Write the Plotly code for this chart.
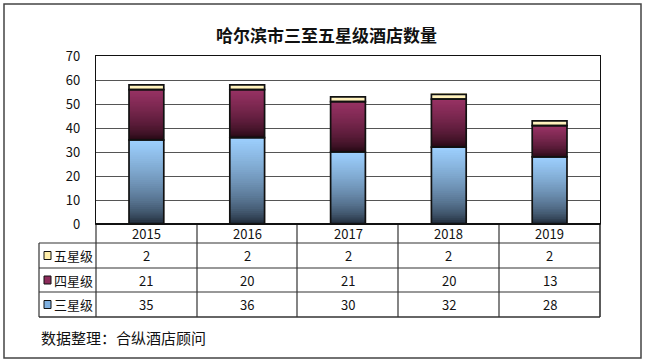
import plotly.graph_objects as go

years = ["2015", "2016", "2017", "2018", "2019"]
three_star = [35, 36, 30, 32, 28]
four_star = [21, 20, 21, 20, 13]
five_star = [2, 2, 2, 2, 2]
series_names = ["五星级", "四星级", "三星级"]
title_text = "哈尔滨市三至五星级酒店数量"
source_text = "数据整理：合纵酒店顾问"

FONT = "Noto Sans CJK SC, Noto Sans, sans-serif"
W, H = 645, 364
L, R, T, B = 96, 600, 56, 224  # plot area in pixels

def px_x(p):
    return (p - L) / (R - L)

def px_y(p):
    return (B - p) / (B - T)

def lerp(c1, c2, t):
    return "rgb(%d,%d,%d)" % tuple(round(a + (b - a) * t) for a, b in zip(c1, c2))

xs = list(range(len(years)))
fig = go.Figure()

N = 40
bar_w = 0.345

def gradient_series(values, bases, bottom_col, top_col, gamma):
    for k in range(N):
        t = ((k + 0.5) / N) ** gamma
        col = lerp(bottom_col, top_col, t)
        extra = 0.35 if k < N - 1 else 0.0
        fig.add_trace(go.Bar(
            x=xs, y=[v / N + extra for v in values],
            base=[b + k * v / N for b, v in zip(bases, values)],
            width=bar_w, marker=dict(color=col, line=dict(width=0)),
            showlegend=False, hoverinfo="skip"))

base3 = [0] * len(years)
base4 = three_star
base5 = [a + b for a, b in zip(three_star, four_star)]

gradient_series(three_star, base3, (18, 24, 34), (157, 208, 255), 0.55)
gradient_series(four_star, base4, (26, 5, 12), (152, 50, 100), 0.6)
gradient_series(five_star, base5, (255, 236, 170), (255, 246, 200), 1.0)

for vals, bases in [(three_star, base3), (four_star, base4), (five_star, base5)]:
    fig.add_trace(go.Bar(
        x=xs, y=vals, base=bases, width=bar_w,
        marker=dict(color="rgba(0,0,0,0)", line=dict(color="#111", width=1.7)),
        showlegend=False, hoverinfo="skip"))

shapes = []
ann = []

def text_ann(x, y, text, size=13, xanchor="center", bold=False):
    ann.append(dict(x=x, y=y, xref="paper", yref="paper", xanchor=xanchor, yanchor="middle",
                    text=("<b>%s</b>" % text) if bold else text, showarrow=False,
                    font=dict(size=size, color="#111", family=FONT)))

# outer border
shapes.append(dict(type="rect", xref="paper", yref="paper",
                   x0=px_x(4), x1=px_x(641), y0=px_y(358), y1=px_y(4),
                   line=dict(color="#444", width=1.5), layer="below"))

# table lines
tab_left = 39
row_lines = [243, 268, 292, 317]
col_lines = [96, 197, 297, 398, 499, 600]
line_col = "#333"
for i, yp in enumerate(row_lines):
    shapes.append(dict(type="line", xref="paper", yref="paper",
                       x0=px_x(tab_left), x1=px_x(600), y0=px_y(yp), y1=px_y(yp),
                       line=dict(color=line_col, width=1.2 if i < 3 else 1.6)))
for xp in col_lines:
    shapes.append(dict(type="line", xref="paper", yref="paper",
                       x0=px_x(xp), x1=px_x(xp), y0=px_y(224), y1=px_y(317),
                       line=dict(color=line_col, width=1.2 if xp != 600 else 1.6)))
shapes.append(dict(type="line", xref="paper", yref="paper",
                   x0=px_x(tab_left), x1=px_x(tab_left), y0=px_y(243), y1=px_y(317),
                   line=dict(color=line_col, width=1.2)))
# bottom axis line (thicker)
shapes.append(dict(type="line", xref="paper", yref="paper",
                   x0=0, x1=1, y0=0, y1=0, line=dict(color="#111", width=2.2)))

# year row
for i, yr in enumerate(years):
    text_ann((i + 0.5) / len(years), px_y(233.5), yr)

rows = [five_star, four_star, three_star]
row_centers = [255.5, 280, 304.5]
key_cols = ["#ffeeaa", "#8c2b5a", "#7fb0e0"]
for name, vals, yc, kc in zip(series_names, rows, row_centers, key_cols):
    for i, v in enumerate(vals):
        text_ann((i + 0.5) / len(years), px_y(yc), str(v))
    shapes.append(dict(type="rect", xref="paper", yref="paper",
                       x0=px_x(44), x1=px_x(51), y0=px_y(yc + 4), y1=px_y(yc - 4),
                       fillcolor=kc, line=dict(color="#111", width=1)))
    text_ann(px_x(52), px_y(yc), name, xanchor="left")

text_ann(px_x(326), px_y(34), title_text, size=17, bold=True)
text_ann(px_x(39), px_y(337), source_text, size=15, xanchor="left")

fig.update_layout(
    width=W, height=H,
    margin=dict(l=L, r=W - R, t=T, b=H - B, pad=0),
    paper_bgcolor="white", plot_bgcolor="white",
    barmode="overlay",
    shapes=shapes, annotations=ann,
    showlegend=False,
    xaxis=dict(range=[-0.5, len(years) - 0.5], showticklabels=False, showgrid=False,
               zeroline=False, showline=True, mirror=True, linecolor="#111", linewidth=1,
               fixedrange=True),
    yaxis=dict(range=[0, 70], dtick=10, showgrid=True, gridcolor="#555", gridwidth=1,
               zeroline=False, showline=True, mirror=True, linecolor="#111", linewidth=1.2,
               ticks="", ticklabelstandoff=12,
               tickfont=dict(size=13, color="#111", family=FONT), fixedrange=True),
)

fig.write_html("out.html", config={"displayModeBar": False},
               post_script="document.body.style.margin='0';document.body.style.overflow='hidden';")
